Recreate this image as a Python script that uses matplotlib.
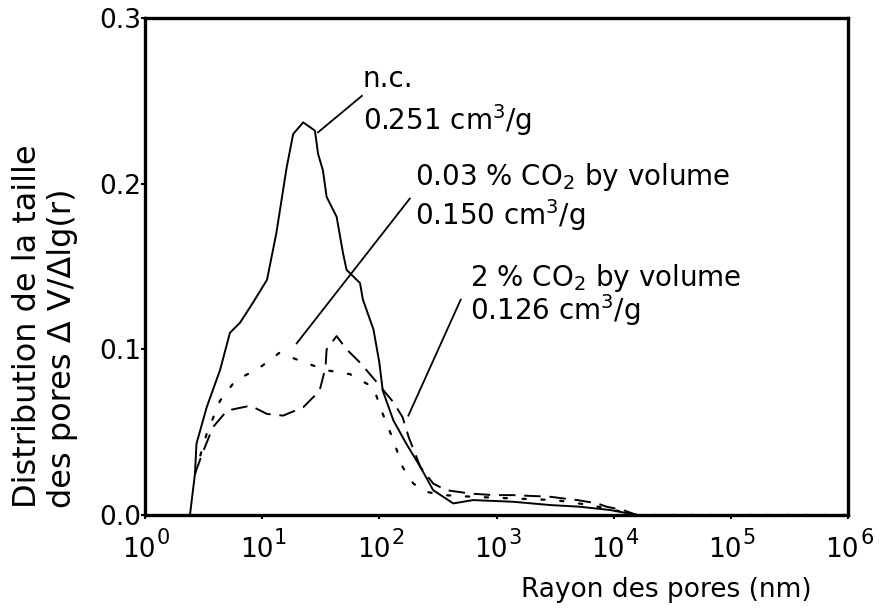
import matplotlib
matplotlib.use("Agg")
import matplotlib.pyplot as plt
from matplotlib.ticker import FixedLocator, FixedFormatter, NullFormatter
from matplotlib.transforms import blended_transform_factory, offset_copy

plt.rcParams['font.family'] = ['DejaVu Sans']
plt.rcParams['mathtext.fontset'] = 'dejavusans'

# ---- data ----
nc_x = [2.42, 2.67, 2.75, 3.36, 4.37, 5.31, 6.46, 8.32, 11.0, 13.2, 16.2, 18.4, 22.4, 28.2,
        30.0, 33.0, 35.5, 43.2, 49.0, 52.5, 68.4, 72.4, 89.1, 100, 107, 132, 170, 224, 288,
        427, 631, 1380, 2880, 5130, 9330, 15800, 1e6]
nc_y = [0.0, 0.025, 0.043, 0.065, 0.0875, 0.110, 0.116, 0.128, 0.142, 0.170, 0.210, 0.230,
        0.237, 0.232, 0.218, 0.208, 0.192, 0.180, 0.158, 0.148, 0.140, 0.130, 0.112, 0.092,
        0.075, 0.057, 0.043, 0.029, 0.015, 0.007, 0.009, 0.008, 0.006, 0.005, 0.003, 0.0, 0.0]

co2_003_x = [2.67, 3.36, 4.37, 5.89, 9.55, 14.1, 19.5, 34.7, 56.2, 89.1, 107, 132, 158, 195,
             251, 355, 631, 1380, 3160, 6310, 10000, 15800, 1e6]
co2_003_y = [0.025, 0.049, 0.069, 0.081, 0.089, 0.098, 0.094, 0.0875, 0.085, 0.077, 0.061,
             0.045, 0.029, 0.019, 0.014, 0.012, 0.011, 0.010, 0.009, 0.006, 0.003, 0.0, 0.0]

co2_2_x = [2.67, 3.16, 3.80, 5.01, 7.94, 11.0, 15.1, 22.4, 30.9, 34.7, 35.5, 43.2, 52.5, 68.4,
           95.5, 132, 158, 178, 224, 288, 372, 589, 933, 1380, 2880, 3720, 4900, 7240, 8710,
           12000, 15800, 1e6]
co2_2_y = [0.025, 0.039, 0.053, 0.063, 0.066, 0.061, 0.060, 0.065, 0.075, 0.089, 0.100, 0.108,
           0.100, 0.092, 0.080, 0.068, 0.059, 0.047, 0.029, 0.019, 0.015, 0.013, 0.012, 0.012,
           0.011, 0.010, 0.009, 0.007, 0.005, 0.003, 0.0, 0.0]

x_ticks = [1, 10, 100, 1000, 10000, 100000, 1000000]
x_tick_exponents = ['0', '1', '2', '3', '4', '5', '6']
y_ticks = [0.0, 0.1, 0.2, 0.3]
y_tick_labels = ['0.0', '0.1', '0.2', '0.3']

fig = plt.figure(figsize=(8.83, 6.08), dpi=100)
ax = fig.add_axes([145/883, 93/608, 703/883, 497/608])

lw = 1.4
ax.plot(nc_x, nc_y, color='black', lw=lw, solid_joinstyle='round')
ax.plot(co2_003_x, co2_003_y, color='black', lw=1.6, linestyle=(0, (1.5, 7)),
        dash_capstyle='round')
ax.plot(co2_2_x, co2_2_y, color='black', lw=lw, linestyle=(0, (8.5, 4.5)))

ax.set_xscale('log')
ax.set_xlim(1, 1e6)
ax.set_ylim(0, 0.3)
ax.xaxis.set_major_locator(FixedLocator(x_ticks))
ax.xaxis.set_major_formatter(NullFormatter())
ax.xaxis.set_minor_locator(FixedLocator([]))
ax.yaxis.set_major_locator(FixedLocator(y_ticks))
ax.yaxis.set_major_formatter(FixedFormatter(y_tick_labels))

for s in ax.spines.values():
    s.set_linewidth(2.4)
ax.tick_params(axis='both', direction='out', length=3, width=1.5, labelsize=19)
ax.tick_params(axis='y', pad=0)

# x tick labels: "10" with a large raised exponent
tr = blended_transform_factory(ax.transData, ax.transAxes)
for xv, e in zip(x_ticks, x_tick_exponents):
    t10 = offset_copy(tr, fig=fig, x=11, y=-42, units='dots')
    ax.text(xv, 0, '10', transform=t10, ha='right', va='baseline', fontsize=19, clip_on=False)
    te = offset_copy(tr, fig=fig, x=12, y=-29, units='dots')
    ax.text(xv, 0, e, transform=te, ha='left', va='baseline', fontsize=15, clip_on=False)

fig.text(666/883, 11/608, 'Rayon des pores (nm)', ha='center', va='baseline', fontsize=19)
fig.text(45/883, 100/608, 'Distribution de la taille\ndes pores Δ V/Δlg(r)', rotation=90,
         ha='center', va='bottom', multialignment='left', fontsize=23, linespacing=1.2)

fs = 20
# annotations
ax.text(72, 0.2585, 'n.c.', fontsize=fs, ha='left', va='baseline')
ax.text(72, 0.2323, r'0.251 cm$^{3}$/g', fontsize=fs, ha='left', va='baseline')
ax.plot([30, 71], [0.231, 0.253], color='black', lw=1.3)

ax.text(200, 0.199, r'0.03 % CO$_{2}$ by volume', fontsize=fs, ha='left', va='baseline')
ax.text(200, 0.175, r'0.150 cm$^{3}$/g', fontsize=fs, ha='left', va='baseline')
ax.plot([19.7, 182], [0.1036, 0.191], color='black', lw=1.3)

ax.text(590, 0.138, r'2 % CO$_{2}$ by volume', fontsize=fs, ha='left', va='baseline')
ax.text(590, 0.118, r'0.126 cm$^{3}$/g', fontsize=fs, ha='left', va='baseline')
ax.plot([177, 495], [0.060, 0.130], color='black', lw=1.3)

fig.savefig('out.png', dpi=100)
